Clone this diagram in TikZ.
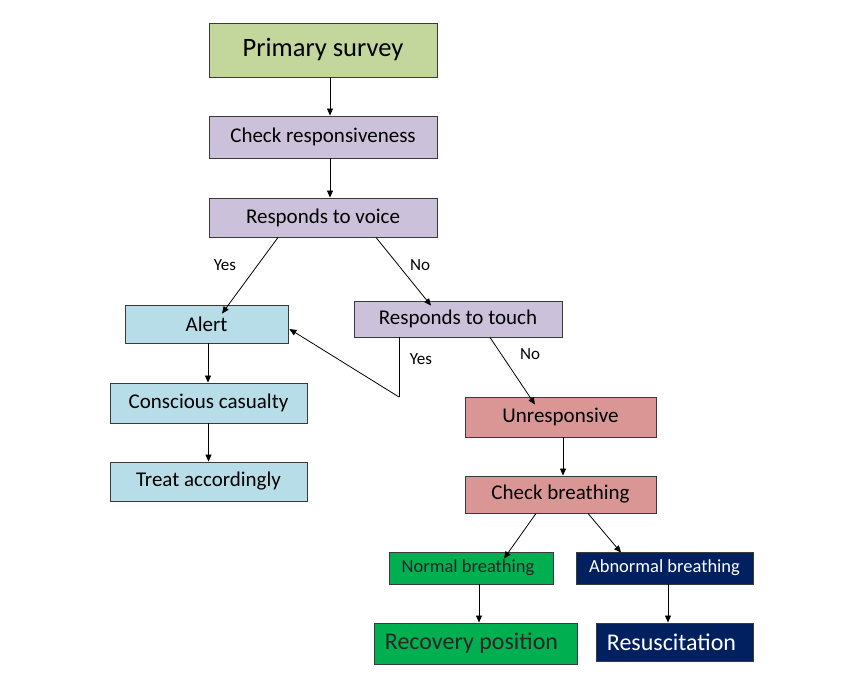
\documentclass[tikz,border=0pt]{standalone}
\usepackage{fontspec}
\setmainfont{Carlito}
\usetikzlibrary{arrows.meta}
\definecolor{psgreen}{HTML}{C3D69B}
\definecolor{lav}{HTML}{CCC1DA}
\definecolor{lblue}{HTML}{B7DEE8}
\definecolor{salmon}{HTML}{D99694}
\definecolor{brgreen}{HTML}{00B050}
\definecolor{navy}{HTML}{002060}
\definecolor{edge}{HTML}{3A3A3A}
\begin{document}
\begin{tikzpicture}[x=1pt,y=-1pt,
  box/.style={draw=edge,line width=0.9pt,rectangle,inner sep=0pt,anchor=center},
  mid/.style={font=\fontsize{21}{24}\selectfont},
  conn/.style={-{Triangle[length=7pt,width=6pt]},line width=0.8pt,black},
  lbl/.style={font=\fontsize{17}{19}\selectfont,inner sep=0pt}]
\useasboundingbox[fill=white] (0,0) rectangle (847,694);
\node[box,fill=psgreen,minimum width=228pt,minimum height=54pt,font=\fontsize{26.5}{29}\selectfont] (ps) at (323,50) {Primary survey};
\node[box,mid,fill=lav,minimum width=228pt,minimum height=42pt] (cr) at (323,137) {Check responsiveness};
\node[box,mid,fill=lav,minimum width=228pt,minimum height=39pt] (rv) at (323,217.5) {Responds to voice};
\node[box,mid,fill=lblue,minimum width=163pt,minimum height=38pt] (al) at (206.5,324) {Alert};
\node[box,mid,fill=lav,minimum width=208pt,minimum height=36pt] (rt) at (458,319) {Responds to touch};
\node[box,mid,fill=lblue,minimum width=197pt,minimum height=40pt] (cc) at (208.5,403) {Conscious casualty};
\node[box,mid,fill=lblue,minimum width=197pt,minimum height=39pt] (ta) at (208.5,481.5) {Treat accordingly};
\node[box,mid,fill=salmon,minimum width=191pt,minimum height=40pt] (un) at (560.5,417) {Unresponsive};
\node[box,mid,fill=salmon,minimum width=191pt,minimum height=37pt] (cb) at (560.5,494.5) {Check breathing};
\node[box,fill=brgreen,minimum width=164pt,minimum height=32pt,font=\fontsize{18.5}{21}\selectfont,text=black!85] (nb) at (471,568) {Normal breathing\hspace*{6pt}};
\node[box,fill=navy,minimum width=177pt,minimum height=32pt,font=\fontsize{18.5}{21}\selectfont,text=white] (ab) at (664.5,568) {Abnormal breathing};
\node[box,fill=brgreen,minimum width=203pt,minimum height=41pt,font=\fontsize{24}{27}\selectfont,text=black!85] (rp) at (475.5,643.5) {Recovery position\hspace*{8pt}};
\node[box,fill=navy,minimum width=157pt,minimum height=38pt,font=\fontsize{24}{27}\selectfont,text=white] (rs) at (674.5,642) {Resuscitation\hspace*{6pt}};
\coordinate (bend) at (399,397);
% connectors
\draw[conn] ([xshift=7pt]ps.south) -- ([xshift=7pt]cr.north);
\draw[conn] ([xshift=7pt]cr.south) -- ([xshift=7pt]rv.north);
\draw[conn] ([xshift=-45pt]rv.south) -- ([xshift=15.5pt,yshift=-9pt]al.north);
\draw[conn] ([xshift=53pt]rv.south) -- ([xshift=-27pt,yshift=-5pt]rt.north);
\draw[conn] ([xshift=1.5pt]al.south) -- ([xshift=-0.5pt]cc.north);
\draw[conn] (cc.south) -- (ta.north);
\draw[line width=0.8pt] ([xshift=-59pt]rt.south) -- (bend);
\draw[conn] (bend) -- ([xshift=1pt,yshift=-5pt]al.east);
\draw[conn] ([xshift=32pt]rt.south) -- ([xshift=-25.5pt,yshift=-8pt]un.north);
\draw[conn] ([xshift=2.5pt]un.south) -- ([xshift=2.5pt]cb.north);
\draw[conn] ([xshift=-24.5pt]cb.south) -- ([xshift=33pt,yshift=-7pt]nb.north);
\draw[conn] ([xshift=27.5pt]cb.south) -- ([xshift=-43.5pt,yshift=-1pt]ab.north);
\draw[conn] ([xshift=8pt]nb.south) -- ([xshift=3.5pt]rp.north);
\draw[conn] ([xshift=3.5pt]ab.south) -- ([xshift=-6.5pt]rs.north);
% labels
\node[lbl] (yes1) at (225,265) {Yes};
\node[lbl] (no1) at (420,265) {No};
\node[lbl] (yes2) at (421,359) {Yes};
\node[lbl] (no2) at (530,354) {No};
\end{tikzpicture}
\end{document}
